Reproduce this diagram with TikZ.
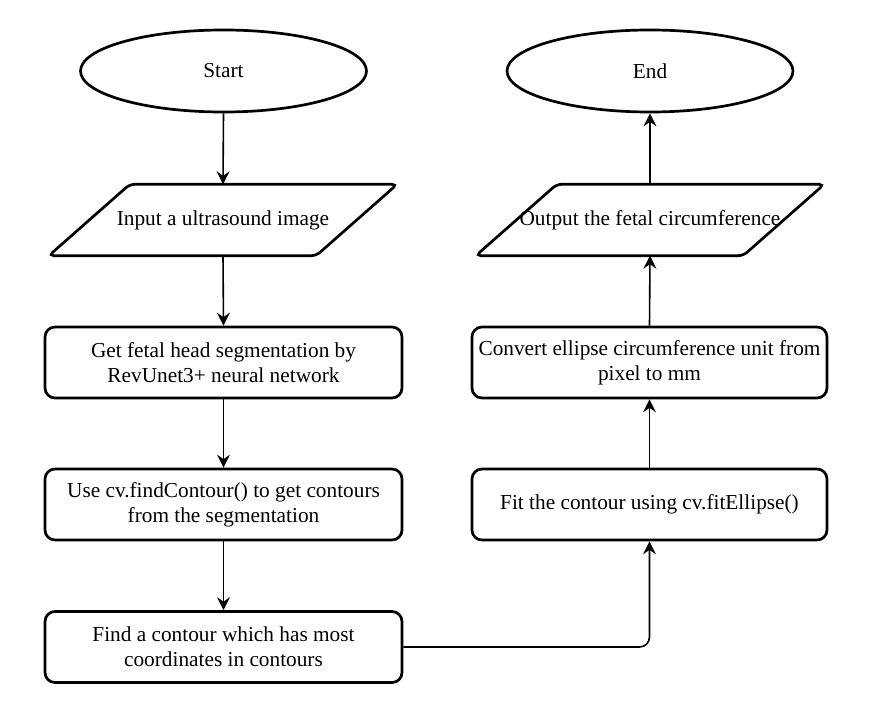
\documentclass[tikz,border=0pt]{standalone}
\usepackage{fontspec}
\setmainfont{Liberation Serif}
\usetikzlibrary{shapes.geometric,arrows.meta,calc}
\begin{document}
\begin{tikzpicture}[x=1pt,y=-1pt,
  every node/.style={font=\fontsize{21.3}{25}\selectfont, align=center, inner sep=0pt},
  term/.style={ellipse, draw, line width=2.7pt, minimum width=286pt, minimum height=82pt},
  iobox/.style={draw=none, minimum width=348pt, minimum height=71pt},
  procbox/.style={draw, line width=2.7pt, rounded corners=10pt, minimum width=357pt, minimum height=71pt},
  para/.style={line width=2.7pt, rounded corners=5pt},
  conn/.style={line width=1.6pt, -{Stealth[length=13pt,width=13pt,inset=4.5pt]}}
]
\useasboundingbox (0,0) rectangle (881,722);
\fill[white] (0,0) rectangle (881,722);

% left column
\node[term] (start) at (223.5,71) {Start};
\node[iobox] (in) at (223,220) {\raisebox{-3pt}{Input a ultrasound image}};
\draw[para] (in.south west) -- ([xshift=81pt]in.north west) -- (in.north east) -- ([xshift=-81pt]in.south east) -- cycle;
\node[procbox] (seg) at (223.5,362.5) {Get fetal head segmentation by\\RevUnet3+ neural network};
\node[procbox] (cont) at (223.5,504.5) {Use cv.findContour() to get contours\\from the segmentation};
\node[procbox] (find) at (223.5,647) {Find a contour which has most\\coordinates in contours};

% right column
\node[term] (end) at (650,71) {End};
\node[iobox] (out) at (650,220) {\raisebox{-3pt}{Output the fetal circumference}};
\draw[para] (out.south west) -- ([xshift=81pt]out.north west) -- (out.north east) -- ([xshift=-81pt]out.south east) -- cycle;
\node[procbox, minimum width=355pt] (conv) at (649.5,362.5) {Convert ellipse circumference unit from\\pixel to mm};
\node[procbox, minimum width=355pt] (fit) at (649.5,504.5) {Fit the contour using cv.fitEllipse()};

% connectors
\draw[conn] (start.south) -- (in.north);
\draw[conn] (in.south) -- (seg.north);
\draw[conn] (seg.south) -- (cont.north);
\draw[conn] (cont.south) -- (find.north);
\draw[conn, rounded corners=10pt] (find.east) -| (fit.south);
\draw[conn] (fit.north) -- (conv.south);
\draw[conn] (conv.north) -- (out.south);
\draw[conn] (out.north) -- (end.south);
\end{tikzpicture}
\end{document}
